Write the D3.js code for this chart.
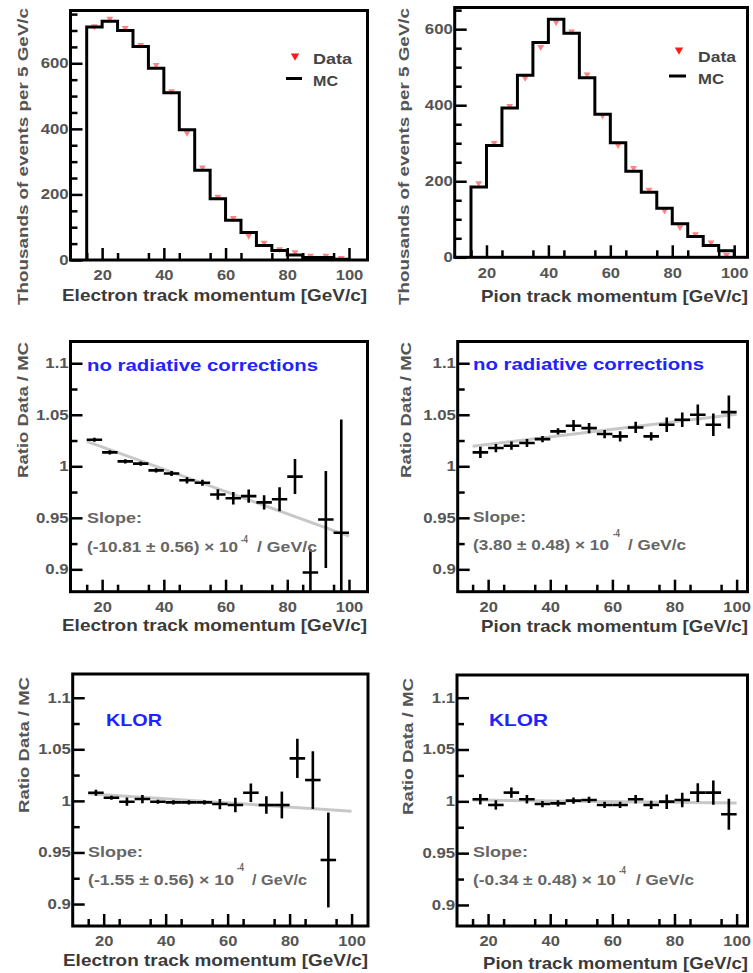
<!DOCTYPE html>
<html><head><meta charset="utf-8">
<script src="https://cdn.jsdelivr.net/npm/d3@7"></script>
<style>html,body{margin:0;padding:0;background:#fff}svg{display:block}</style>
</head><body>
<script>
// ---------------- DATA ----------------
const momentum = [17.5, 22.5, 27.5, 32.5, 37.5, 42.5, 47.5, 52.5, 57.5, 62.5, 67.5, 72.5, 77.5, 82.5, 87.5, 92.5, 97.5];
const binHalfWidth = 2.5;

const electronMC   = [711, 728, 700, 651, 585, 510, 397, 274, 187, 121, 84, 44, 29, 15, 8, 8, 2];
const electronData = [713, 736, 708, 656, 595, 515, 388, 282, 193, 128, 74, 53, 33, 24, 13, 13, 6];
const pionMC   = [185, 294, 393, 479, 565, 626, 589, 472, 376, 301, 226, 171, 129, 88, 55, 31, 17];
const pionData = [195, 301, 398, 472, 553, 618, 594, 481, 373, 295, 235, 178, 123, 79, 61, 39, 6];

const ratioElectronNoRad    = [1.0258, 1.0135, 1.0048, 1.0026, 0.996, 0.993, 0.9864, 0.984, 0.9726, 0.969, 0.971, 0.965, 0.968, 0.990, 0.897, 0.9484, 0.9355];
const ratioElectronNoRadErr = [0.002, 0.002, 0.002, 0.002, 0.002, 0.0025, 0.003, 0.003, 0.005, 0.006, 0.0065, 0.007, 0.0117, 0.017, 0.0226, 0.047, 0.11];
const ratioPionNoRad    = [1.0135, 1.0177, 1.020, 1.0226, 1.0264, 1.0339, 1.0394, 1.037, 1.0313, 1.029, 1.0377, 1.029, 1.0403, 1.0452, 1.050, 1.0403, 1.0526];
const ratioPionNoRadErr = [0.0055, 0.004, 0.004, 0.004, 0.003, 0.003, 0.0055, 0.005, 0.004, 0.005, 0.0055, 0.004, 0.007, 0.007, 0.010, 0.011, 0.016];
const ratioElectronKlor    = [1.0079, 1.003, 0.9992, 1.0018, 0.9992, 0.9985, 0.9985, 0.9985, 0.9969, 0.996, 1.0079, 0.996, 0.996, 1.0412, 1.0202, 0.9427];
const ratioElectronKlorErr = [0.003, 0.002, 0.004, 0.004, 0.002, 0.002, 0.002, 0.002, 0.005, 0.007, 0.009, 0.0085, 0.013, 0.019, 0.028, 0.046];
const ratioPionKlor    = [1.002, 0.9965, 1.0084, 1.002, 0.9974, 0.998, 1.0007, 1.0013, 0.9965, 0.9965, 1.002, 0.9965, 0.9997, 1.0013, 1.0084, 1.0084, 0.9875];
const ratioPionKlorErr = [0.005, 0.0045, 0.005, 0.004, 0.003, 0.003, 0.003, 0.003, 0.003, 0.003, 0.004, 0.004, 0.007, 0.007, 0.009, 0.0116, 0.015];

// linear fit lines (end points [momentum, ratio])
const fitElectronNoRad = [[15, 1.0242], [100, 0.9323]];
const fitPionNoRad     = [[15, 1.0195], [100, 1.0505]];
const fitElectronKlor  = [[15, 1.0070], [100, 0.9900]];
const fitPionKlor      = [[15, 1.0012], [100, 0.9985]];

const slopeElectronNoRad = "(-10.81 \u00b1 0.56) \u00d7 10";
const slopePionNoRad     = "(3.80 \u00b1 0.48) \u00d7 10";
const slopeElectronKlor  = "(-1.55 \u00b1 0.56) \u00d7 10";
const slopePionKlor      = "(-0.34 \u00b1 0.48) \u00d7 10";

const xTicks = [20, 40, 60, 80, 100];
const xMinorTicks = [15, 25, 35, 45, 55, 65, 75, 85, 95];
const histYTicks = [0, 200, 400, 600];
const histYTickLabels = ["0", "200", "400", "600"];
const ratioYTicks = [0.9, 0.95, 1, 1.05, 1.1];
const ratioYTickLabels = ["0.9", "0.95", "1", "1.05", "1.1"];
const ratioYMinorTicks = [0.925, 0.975, 1.025, 1.075];

// ---------------- DRAWING ----------------
const FONT = '"Liberation Sans", Arial, Helvetica, sans-serif';
const svg = d3.select('body').append('svg')
  .attr('width', 753).attr('height', 973)
  .attr('font-family', FONT);

function txt(parent, o) {
  const t = parent.append('text')
    .attr('x', o.x).attr('y', o.y)
    .attr('font-size', o.size).attr('font-weight', o.weight || 'bold')
    .attr('fill', o.fill || '#333')
    .attr('text-anchor', o.anchor || 'start')
    .text(o.text);
  if (o.width) t.attr('textLength', o.width).attr('lengthAdjust', 'spacingAndGlyphs');
  if (o.rotate) t.attr('transform', `rotate(${o.rotate},${o.x},${o.y})`);
  return t;
}

function styleAxis(sel, lw) {
  sel.select('.domain').remove();
  sel.selectAll('.tick line').attr('stroke', '#000').attr('stroke-width', lw);
}

function drawPanel(p) {
  const x = d3.scaleLinear().domain(p.xDomain).range([p.left, p.right]);
  const y = d3.scaleLinear().domain(p.yDomain).range([p.bottom, p.top]);
  const g = svg.append('g');
  const clipId = 'clip' + p.id;
  svg.append('clipPath').attr('id', clipId).append('rect')
    .attr('x', p.left).attr('y', p.top)
    .attr('width', p.right - p.left).attr('height', p.bottom - p.top);

  // x axis ticks (inward)
  const axm = g.append('g').attr('transform', `translate(0,${p.bottom})`)
    .call(d3.axisBottom(x).tickValues(xMinorTicks).tickSize(-7).tickFormat(''));
  styleAxis(axm, 2.5);
  const axM = g.append('g').attr('transform', `translate(0,${p.bottom})`)
    .call(d3.axisBottom(x).tickValues(xTicks).tickSize(-12).tickPadding(10.5).tickFormat(d3.format('d')));
  styleAxis(axM, 2.5);
  axM.selectAll('.tick text').attr('font-size', 14).attr('font-weight', 'bold')
    .attr('fill', '#555').attr('font-family', FONT).attr('transform', 'scale(1.18,1)');

  // y axis ticks
  const aym = g.append('g').attr('transform', `translate(${p.left},0)`)
    .call(d3.axisLeft(y).tickValues(p.yMinor).tickSize(-7).tickFormat(''));
  styleAxis(aym, 2.5);
  const ayM = g.append('g').attr('transform', `translate(${p.left},0)`)
    .call(d3.axisLeft(y).tickValues(p.yTicks).tickSize(-12).tickPadding(1.5)
      .tickFormat((d, i) => p.yLabels[i]));
  styleAxis(ayM, 2.5);
  ayM.selectAll('.tick text').attr('font-size', 14).attr('font-weight', 'bold')
    .attr('fill', '#555').attr('font-family', FONT).attr('transform', 'scale(1.2,1)');

  const content = g.append('g').attr('clip-path', `url(#${clipId})`);

  if (p.type === 'hist') {
    const n = p.mc.length;
    const lo = momentum.map(m => m - binHalfWidth);
    const pts = [[lo[0], 0]].concat(p.mc.map((v, i) => [lo[i], v]),
      [[momentum[n - 1] + binHalfWidth, p.mc[n - 1]], [momentum[n - 1] + binHalfWidth, 0]]);
    // data markers
    content.selectAll('path.dm').data(p.data).enter().append('path')
      .attr('class', 'dm')
      .attr('d', d3.symbol().type(d3.symbolTriangle).size(20)())
      .attr('transform', (d, i) => `translate(${x(momentum[i])},${y(d)}) rotate(180)`)
      .attr('fill', '#ff3030').attr('fill-opacity', 0.6);
    content.append('path')
      .attr('d', d3.line().x(d => x(d[0])).y(d => y(d[1])).curve(d3.curveStepAfter)(pts))
      .attr('fill', 'none').attr('stroke', '#000').attr('stroke-width', 3)
      .attr('stroke-linejoin', 'miter');
    // legend
    const L = p.legend;
    g.append('path').attr('d', d3.symbol().type(d3.symbolTriangle).size(30)())
      .attr('transform', `translate(${L.mx},${L.my}) rotate(180)`)
      .attr('fill', '#ff1a1a');
    g.append('line').attr('x1', L.lx1).attr('x2', L.lx2).attr('y1', L.ly).attr('y2', L.ly)
      .attr('stroke', '#000').attr('stroke-width', 3);
    txt(g, {x: L.tx, y: L.dataY, text: 'Data', size: 15, width: L.dataW, fill: '#444'});
    txt(g, {x: L.tx, y: L.mcY, text: 'MC', size: 15, width: L.mcW, fill: '#444'});
  } else {
    const vals = p.ratio, errs = p.err;
    content.append('line')
      .attr('x1', x(p.fit[0][0])).attr('y1', y(p.fit[0][1]))
      .attr('x2', x(p.fit[1][0])).attr('y2', y(p.fit[1][1]))
      .attr('stroke', '#c8c8c8').attr('stroke-width', 3);
    const pg = content.selectAll('g.pt').data(vals).enter().append('g').attr('class', 'pt');
    pg.append('line')
      .attr('x1', (d, i) => x(momentum[i] - binHalfWidth))
      .attr('x2', (d, i) => x(momentum[i] + binHalfWidth))
      .attr('y1', d => y(d)).attr('y2', d => y(d))
      .attr('stroke', '#000').attr('stroke-width', 2.6);
    pg.append('line')
      .attr('x1', (d, i) => x(momentum[i])).attr('x2', (d, i) => x(momentum[i]))
      .attr('y1', (d, i) => y(d - errs[i])).attr('y2', (d, i) => y(d + errs[i]))
      .attr('stroke', '#000').attr('stroke-width', 2.6);
    // labels
    txt(g, {x: p.tag.x, y: p.tag.y, text: p.tag.text, size: 17, width: p.tag.w, fill: '#2222ff'});
    const s = p.slope;
    txt(g, {x: s.x, y: s.y1, text: 'Slope:', size: 14.5, width: s.w1, fill: '#666'});
    txt(g, {x: s.x, y: s.y2, text: s.text, size: 14.5, width: s.w2, fill: '#666'});
    txt(g, {x: s.supX, y: s.supY, text: '-4', size: 10, width: 7, fill: '#666'});
    txt(g, {x: s.unitX, y: s.y2, text: '/ GeV/c', size: 14.5, width: s.unitW, fill: '#666'});
  }

  // frame
  g.append('rect').attr('x', p.left).attr('y', p.top)
    .attr('width', p.right - p.left).attr('height', p.bottom - p.top)
    .attr('fill', 'none').attr('stroke', '#000').attr('stroke-width', 3);

  // axis titles
  txt(g, {x: p.xt.x, y: p.xt.y, text: p.xt.text, size: 17, width: p.xt.w, fill: '#3a3a3a'});
  txt(g, {x: p.yt.x, y: p.yt.y, text: p.yt.text, size: 15, width: p.yt.w, fill: '#555', rotate: -90});
}

const eTitle = 'Electron track momentum [GeV/c]';
const pTitle = 'Pion track momentum [GeV/c]';
const histYTitle = 'Thousands of events per 5 GeV/c';
const ratioYTitle = 'Ratio Data / MC';

const panels = [
  {id: 1, type: 'hist', left: 70.5, right: 367.5, top: 10.5, bottom: 260,
   xDomain: [9.75, 106], yDomain: [0, 761], yTicks: histYTicks, yLabels: histYTickLabels,
   yMinor: [50, 100, 150, 250, 300, 350, 450, 500, 550, 650, 700, 750],
   mc: electronMC, data: electronData,
   legend: {mx: 295, my: 56, lx1: 286, lx2: 302, ly: 78.5, tx: 313, dataY: 64, dataW: 39, mcY: 86, mcW: 25},
   xt: {x: 62, y: 301, text: eTitle, w: 305}, yt: {x: 28, y: 305, text: histYTitle, w: 297}},
  {id: 2, type: 'hist', left: 454.7, right: 747.5, top: 7.5, bottom: 257.3,
   xDomain: [9.74, 104.3], yDomain: [0, 657], yTicks: histYTicks, yLabels: histYTickLabels,
   yMinor: [50, 100, 150, 250, 300, 350, 450, 500, 550, 650],
   mc: pionMC, data: pionData,
   legend: {mx: 679, my: 50, lx1: 669, lx2: 686, ly: 76, tx: 698, dataY: 62, dataW: 38, mcY: 84, mcW: 26},
   xt: {x: 481, y: 302, text: pTitle, w: 267}, yt: {x: 409, y: 305, text: histYTitle, w: 297}},
  {id: 3, type: 'ratio', left: 70.5, right: 367.5, top: 341.5, bottom: 591.7,
   xDomain: [9.75, 106], yDomain: [0.8783, 1.1211], yTicks: ratioYTicks, yLabels: ratioYTickLabels, yMinor: ratioYMinorTicks,
   ratio: ratioElectronNoRad, err: ratioElectronNoRadErr, fit: fitElectronNoRad,
   tag: {x: 87, y: 371, text: 'no radiative corrections', w: 231},
   slope: {x: 87, y1: 523, w1: 55, y2: 552, text: slopeElectronNoRad, w2: 151, supX: 241, supY: 543, unitX: 257, unitW: 60},
   xt: {x: 62, y: 631, text: eTitle, w: 305}, yt: {x: 28, y: 478, text: ratioYTitle, w: 136}},
  {id: 4, type: 'ratio', left: 457.7, right: 747.5, top: 341.5, bottom: 591.7,
   xDomain: [10.2, 103.5], yDomain: [0.8783, 1.1211], yTicks: ratioYTicks, yLabels: ratioYTickLabels, yMinor: ratioYMinorTicks,
   ratio: ratioPionNoRad, err: ratioPionNoRadErr, fit: fitPionNoRad,
   tag: {x: 473, y: 370, text: 'no radiative corrections', w: 231},
   slope: {x: 473, y1: 522, w1: 53, y2: 550, text: slopePionNoRad, w2: 136, supX: 613, supY: 537, unitX: 628, unitW: 58},
   xt: {x: 481, y: 632, text: pTitle, w: 267}, yt: {x: 411, y: 478, text: ratioYTitle, w: 136}},
  {id: 5, type: 'ratio', left: 72.7, right: 368, top: 674, bottom: 926,
   xDomain: [10, 105.3], yDomain: [0.8787, 1.123], yTicks: ratioYTicks, yLabels: ratioYTickLabels, yMinor: ratioYMinorTicks,
   ratio: ratioElectronKlor, err: ratioElectronKlorErr, fit: fitElectronKlor,
   tag: {x: 106, y: 726, text: 'KLOR', w: 56},
   slope: {x: 88, y1: 857, w1: 55, y2: 885, text: slopeElectronKlor, w2: 146, supX: 237, supY: 871, unitX: 252, unitW: 55},
   xt: {x: 63, y: 966, text: eTitle, w: 305}, yt: {x: 29, y: 813, text: ratioYTitle, w: 136}},
  {id: 6, type: 'ratio', left: 457, right: 747.5, top: 675, bottom: 926,
   xDomain: [10, 103.5], yDomain: [0.8797, 1.1219], yTicks: ratioYTicks, yLabels: ratioYTickLabels, yMinor: ratioYMinorTicks,
   ratio: ratioPionKlor, err: ratioPionKlorErr, fit: fitPionKlor,
   tag: {x: 489, y: 726, text: 'KLOR', w: 59},
   slope: {x: 473, y1: 857, w1: 55, y2: 885, text: slopePionKlor, w2: 143, supX: 619, supY: 874, unitX: 636, unitW: 58},
   xt: {x: 483, y: 969, text: pTitle, w: 265}, yt: {x: 413, y: 815, text: ratioYTitle, w: 137}}
];

panels.forEach(drawPanel);
</script>
</body></html>
